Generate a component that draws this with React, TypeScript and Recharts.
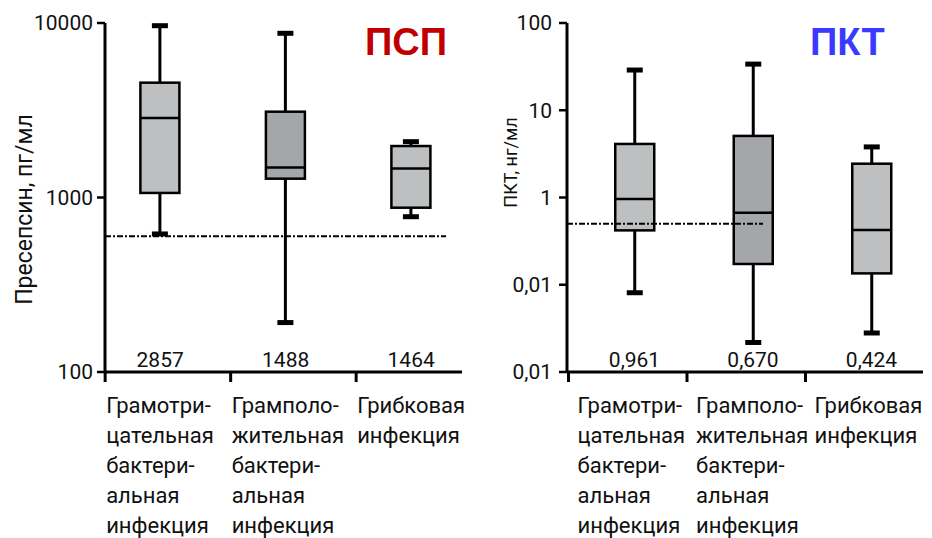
import React from 'react';
import { ComposedChart, Bar, XAxis, YAxis, ReferenceLine } from 'recharts';

const categories = [
  'Грамотри-\nцательная\nбактери-\nальная\nинфекция',
  'Грамполо-\nжительная\nбактери-\nальная\nинфекция',
  'Грибковая\nинфекция',
];
const boxFills = ['#bebfc1', '#a5a6a9', '#bebfc1'];

// Пресепсин, пг/мл
const pspMin = [618, 192, 776];
const pspQ1 = [1062, 1282, 874];
const pspMedian = [2857, 1488, 1464];
const pspQ3 = [4550, 3103, 1972];
const pspMax = [9650, 8730, 2089];
const pspCutoff = 600;
const pspTicks = [100, 1000, 10000];
const pspTickLabels = ['100', '1000', '10000'];

// ПКТ, нг/мл
const pctMin = [0.081, 0.0218, 0.028];
const pctQ1 = [0.42, 0.173, 0.135];
const pctMedian = [0.961, 0.67, 0.424];
const pctQ3 = [4.11, 5.08, 2.44];
const pctMax = [28.9, 33.8, 3.8];
const pctCutoff = 0.5;
const pctTicks = [0.01, 0.1, 1, 10, 100];
const pctTickLabels = ['0,01', '0,01', '1', '10', '100'];

const FONT = 'Roboto, "DejaVu Sans", sans-serif';

const buildRows = (min: number[], q1: number[], median: number[], q3: number[], max: number[]) =>
  categories.map((name, i) => ({
    name,
    range: [min[i], max[i]],
    min: min[i],
    q1: q1[i],
    median: median[i],
    q3: q3[i],
    max: max[i],
    fill: boxFills[i],
  }));

const pspRows = buildRows(pspMin, pspQ1, pspMedian, pspQ3, pspMax);
const pctRows = buildRows(pctMin, pctQ1, pctMedian, pctQ3, pctMax);

// the bar spans min..max on the log axis; inner stats are placed on the same log scale
const BoxShape = (props: any) => {
  const { x, y, width, height, payload } = props;
  if (!payload) return null;
  const top = Math.min(y, y + height);
  const bottom = Math.max(y, y + height);
  const hi = Math.log10(payload.max);
  const lo = Math.log10(payload.min);
  const py = (v: number) => top + ((hi - Math.log10(v)) / (hi - lo)) * (bottom - top);
  const cx = x + width / 2;
  const cap = 8;
  return (
    <g>
      <line x1={cx} x2={cx} y1={py(payload.max)} y2={py(payload.q3)} stroke="#000" strokeWidth={3} />
      <line x1={cx} x2={cx} y1={py(payload.q1)} y2={py(payload.min)} stroke="#000" strokeWidth={3} />
      <line x1={cx - cap} x2={cx + cap} y1={py(payload.max)} y2={py(payload.max)} stroke="#000" strokeWidth={5} />
      <line x1={cx - cap} x2={cx + cap} y1={py(payload.min)} y2={py(payload.min)} stroke="#000" strokeWidth={5} />
      <rect
        x={x}
        y={py(payload.q3)}
        width={width}
        height={py(payload.q1) - py(payload.q3)}
        fill={payload.fill}
        stroke="#000"
        strokeWidth={2.5}
      />
      <line x1={x} x2={x + width} y1={py(payload.median)} y2={py(payload.median)} stroke="#000" strokeWidth={2.5} />
    </g>
  );
};

const cutoffShape = (inset: number) => (p: any) => (
  <line
    x1={p.x1}
    y1={p.y1}
    x2={p.x2 - inset}
    y2={p.y2}
    stroke="#000"
    strokeWidth={2}
    strokeDasharray="6 2 2 2"
  />
);

const CategoryTick = (props: any) => {
  const { x, y, payload, medians, format, markShift, textShift } = props;
  const idx = payload.index ?? props.index;
  const lines = String(payload.value).split('\n');
  const tx = x - textShift;
  return (
    <g>
      <line x1={x - markShift} x2={x - markShift} y1={y} y2={y + 10} stroke="#000" strokeWidth={3} />
      <text x={x} y={y - 5} textAnchor="middle" fontSize={21} fontFamily={FONT} fill="#111">
        {format(medians[idx])}
      </text>
      <text x={tx} y={y + 41} fontSize={22} fontFamily={FONT} fill="#111">
        {lines.map((l, i) => (
          <tspan key={i} x={tx} dy={i === 0 ? 0 : 30}>
            {l}
          </tspan>
        ))}
      </text>
    </g>
  );
};

const axisTitle = (text: string, dx: number, dy: number, size: number) => (p: any) => {
  const vb = p.viewBox || { x: 0, y: 0, width: 0, height: 0 };
  const cx = vb.x + dx;
  const cy = vb.y + vb.height / 2 + dy;
  return (
    <text
      x={cx}
      y={cy}
      transform={`rotate(-90, ${cx}, ${cy})`}
      textAnchor="middle"
      dominantBaseline="central"
      fontSize={size}
      fontFamily={FONT}
      fill="#111"
    >
      {text}
    </text>
  );
};

const yTick = { fill: '#111', fontSize: 21, fontFamily: FONT };
const axisStroke = { stroke: '#000', strokeWidth: 3 };

export default function App() {
  return (
    <div style={{ position: 'absolute', left: 0, top: 0, width: 932, height: 538, background: '#fff' }}>
      <div style={{ position: 'absolute', left: 0, top: 0 }}>
        <ComposedChart width={470} height={538} data={pspRows} margin={{ top: 23, right: 8, bottom: 0, left: 0 }}>
          <XAxis
            dataKey="name"
            interval={0}
            height={166}
            padding={{ left: -7.6, right: -11.9 }}
            axisLine={axisStroke}
            tickLine={false}
            tickSize={0}
            tickMargin={0}
            tick={(p: any) => (
              <CategoryTick {...p} medians={pspMedian} format={(v: number) => String(v)} markShift={55} textShift={54} />
            )}
          />
          <YAxis
            width={105}
            scale="log"
            domain={[100, 10000]}
            allowDataOverflow
            ticks={pspTicks}
            tickFormatter={(v: number) => pspTickLabels[pspTicks.indexOf(v)]}
            tick={yTick}
            tickSize={8}
            tickMargin={4}
            tickLine={{ stroke: '#000', strokeWidth: 2.5 }}
            axisLine={axisStroke}
            label={{ content: axisTitle('Пресепсин, пг/мл', 24, 12, 23) }}
          />
          <Bar dataKey="range" barSize={39} shape={<BoxShape />} isAnimationActive={false} />
          <ReferenceLine y={pspCutoff} shape={cutoffShape(16)} />
        </ComposedChart>
      </div>
      <div style={{ position: 'absolute', left: 470, top: 0 }}>
        <ComposedChart width={462} height={538} data={pctRows} margin={{ top: 23, right: 9, bottom: 0, left: 0 }}>
          <XAxis
            dataKey="name"
            interval={0}
            height={166}
            padding={{ left: 8.25, right: -7.75 }}
            axisLine={axisStroke}
            tickLine={false}
            tickSize={0}
            tickMargin={0}
            tick={(p: any) => (
              <CategoryTick
                {...p}
                medians={pctMedian}
                format={(v: number) => v.toFixed(3).replace('.', ',')}
                markShift={66}
                textShift={57}
              />
            )}
          />
          <YAxis
            width={97}
            scale="log"
            domain={[0.01, 100]}
            allowDataOverflow
            ticks={pctTicks}
            tickFormatter={(v: number) => pctTickLabels[pctTicks.indexOf(v)]}
            tick={yTick}
            tickSize={8}
            tickMargin={7}
            tickLine={{ stroke: '#000', strokeWidth: 2.5 }}
            axisLine={axisStroke}
            label={{ content: axisTitle('ПКТ, нг/мл', 40, -35, 18) }}
          />
          <Bar dataKey="range" barSize={39} shape={<BoxShape />} isAnimationActive={false} />
          <ReferenceLine y={pctCutoff} shape={cutoffShape(160)} />
        </ComposedChart>
      </div>
      <svg width={932} height={538} style={{ position: 'absolute', left: 0, top: 0, pointerEvents: 'none' }}>
        <text x={365} y={55} fontSize={38} fontWeight="bold" fontFamily='"Liberation Sans", Arial, sans-serif' fill="#c00000">
          ПСП
        </text>
        <text x={810} y={55} fontSize={38} fontWeight="bold" fontFamily='"Liberation Sans", Arial, sans-serif' fill="#3a3aff">
          ПКТ
        </text>
      </svg>
    </div>
  );
}
